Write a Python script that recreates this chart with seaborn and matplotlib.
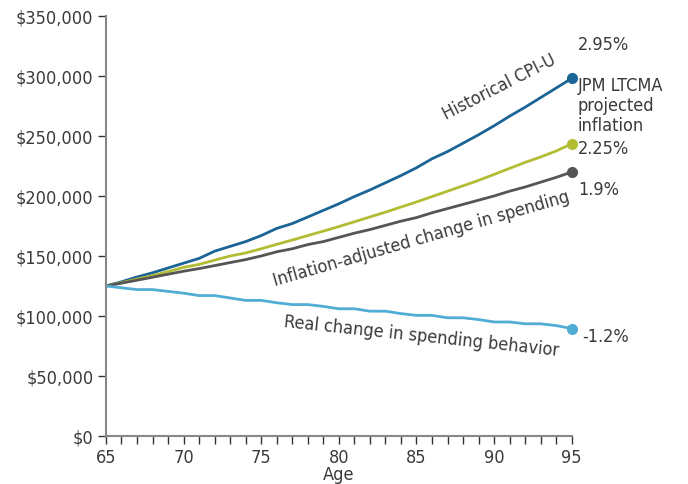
import numpy as np
import pandas as pd
import matplotlib
matplotlib.use("Agg")
import matplotlib.pyplot as plt
from matplotlib.ticker import MultipleLocator, FuncFormatter
import seaborn as sb

# ages 65..95
ages = list(range(65, 96))

# spending paths (in $ thousands)
cpi_u = [125, 128.5, 132.5, 136, 140, 144, 148, 154, 158, 162, 167, 173, 177, 182.5, 188,
         193.5, 199.5, 205, 211, 217, 223.5, 231, 237, 244, 251, 258.5, 266.5, 274, 282, 290, 298]
ltcma = [125, 127.8, 130.7, 133.6, 137, 140.5, 143, 146.5, 150, 152.5, 156, 159.7, 163.3, 167, 170.7,
         174.5, 178.5, 182.5, 186.5, 190.8, 195, 199.5, 204, 208.5, 213, 218, 223, 228, 232.5, 237.5, 243.5]
adjusted = [125, 127.4, 129.8, 132.3, 134.8, 137.3, 139.5, 142, 144.5, 147, 150, 153.5, 156, 159.5, 162,
            165.5, 169, 172, 175.5, 179, 182, 186, 189.5, 193, 196.5, 200, 204, 207.5, 211.5, 215.5, 220]
real = [125, 123.5, 122, 122, 120.5, 119, 117, 117, 115, 113, 113, 111, 109.5, 109.5, 108,
        106, 106, 104, 104, 102, 100.5, 100.5, 98.5, 98.5, 97, 95, 95, 93.5, 93.5, 92, 89.5]

rates = ["2.95%", "2.25%", "1.9%", "-1.2%"]

series = {"cpi": cpi_u, "ltcma": ltcma, "adj": adjusted, "real": real}
colors = {"cpi": "#1a6496", "ltcma": "#b2bd33", "adj": "#555555", "real": "#52add4"}

df = pd.DataFrame({"age": ages, **{k: np.array(v) * 1000 for k, v in series.items()}})
long = df.melt(id_vars="age", var_name="series", value_name="value")

sb.set_style("ticks")
plt.rcParams['font.family'] = ['DejaVu Sans']
txt = "#3a3a3a"

fig = plt.figure(figsize=(6.88, 4.85), dpi=100)
ax = fig.add_axes([0.154, 0.099, 0.677, 0.866])

sb.lineplot(data=long, x="age", y="value", hue="series", palette=colors,
            linewidth=2.0, legend=False, ax=ax)
for k in series:
    ax.plot(df["age"].iloc[-1], df[k].iloc[-1], "o", color=colors[k], markersize=7, clip_on=False)

ax.set_xlim(65, 95)
ax.set_ylim(0, 350000)
ax.xaxis.set_major_locator(MultipleLocator(5))
ax.xaxis.set_minor_locator(MultipleLocator(1))
ax.yaxis.set_major_locator(MultipleLocator(50000))
ax.yaxis.set_major_formatter(FuncFormatter(lambda v, p: "${:,.0f}".format(v)))
sb.despine(ax=ax)
for s in ["left", "bottom"]:
    ax.spines[s].set_color("#888888")
    ax.spines[s].set_linewidth(1.5)
ax.tick_params(which="both", direction="out", color="#333333", labelcolor=txt)
ax.tick_params(which="major", length=6, width=1, labelsize=13, pad=3)
ax.tick_params(which="minor", length=6, width=1)
for lab in ax.get_xticklabels() + ax.get_yticklabels():
    lab.set_fontstretch("condensed")
ax.set_xlabel("Age", fontsize=13, color=txt, labelpad=-1, fontstretch="condensed")
ax.set_ylabel("")

# line labels
kw = dict(fontsize=13, color=txt, fontstretch="condensed")
ax.text(90.3, 291500, "Historical CPI-U", rotation=27, ha="center", va="center", **kw)
ax.text(85.3, 165000, "Inflation-adjusted change in spending", rotation=16, ha="center", va="center", **kw)
ax.text(85.3, 84000, "Real change in spending behavior", rotation=-6, ha="center", va="center", **kw)

# right-side annotations
ax.text(95.4, 326500, rates[0], ha="left", va="center", **kw)
ax.text(95.4, 275500, "JPM LTCMA\nprojected\ninflation", ha="left", va="center", linespacing=1.15, **kw)
ax.text(95.4, 240000, rates[1], ha="left", va="center", **kw)
ax.text(95.4, 206000, rates[2], ha="left", va="center", **kw)
ax.text(95.7, 83500, rates[3], ha="left", va="center", **kw)

fig.savefig("out.png", dpi=100)
